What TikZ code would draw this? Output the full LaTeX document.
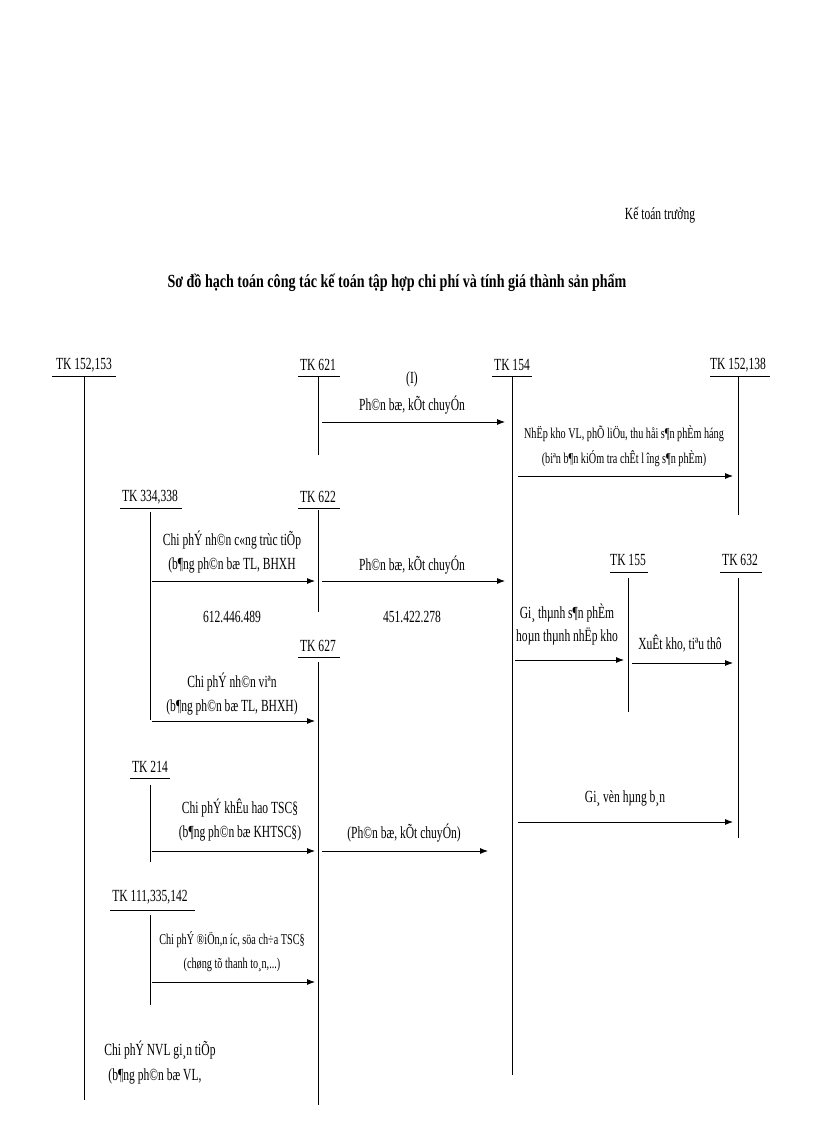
\documentclass[tikz,border=0pt]{standalone}
\usepackage{fontspec}
\setmainfont[FakeStretch=0.68]{Liberation Serif}
\newfontfamily\titlefont[FakeStretch=0.76]{Liberation Serif}
\usetikzlibrary{arrows.meta}
\begin{document}
\begin{tikzpicture}[x=1pt,y=-1pt,
  lbl/.style={inner sep=0pt,font=\fontsize{17}{19}\selectfont,align=center},
  sml/.style={inner sep=0pt,font=\fontsize{15}{17}\selectfont,align=center},
  acc/.style={inner sep=0pt,font=\fontsize{17}{19}\selectfont},
  ln/.style={draw=black,line width=0.8pt},
  arr/.style={ln,-{Latex[length=8pt,width=6pt]}}]
\useasboundingbox (0,0) rectangle (816,1123);
\node[lbl] (kt) at (660,215) {Kế toán trưởng};
\node[inner sep=0pt,font=\titlefont\fontsize{18.5}{20}\selectfont\bfseries] (title) at (397,283) {Sơ đồ hạch toán công tác kế toán tập hợp chi phí và tính giá thành sản phẩm};
% accounts: heading, underline, vertical line
\node[acc] (a1) at (84,365) {TK 152,153};
\draw[ln] (52,376) -- (116,376);
\coordinate (a1t) at (84,376); \coordinate (a1b) at (84,1100); \draw[ln] (a1t) -- (a1b);
\node[acc] (a2) at (318,365) {TK 621};
\draw[ln] (298,376) -- (340,376);
\coordinate (a2t) at (318,376); \coordinate (a2b) at (318,455); \draw[ln] (a2t) -- (a2b);
\node[acc] (a3) at (512,365) {TK 154};
\draw[ln] (492,376) -- (532,376);
\coordinate (a3t) at (512,376); \coordinate (a3b) at (512,1075); \draw[ln] (a3t) -- (a3b);
\node[acc] (a4) at (738,365) {TK 152,138};
\draw[ln] (710,376) -- (770,376);
\coordinate (a4t) at (738,376); \coordinate (a4b) at (738,515); \draw[ln] (a4t) -- (a4b);
\node[lbl] (t1) at (412,379) {(I)};
\node[lbl] (t2) at (412,405) {Ph©n bæ, kÕt chuyÓn};
\coordinate (r1s) at (322,422); \coordinate (r1e) at (505,422); \draw[arr] (r1s) -- (r1e);
\node[sml] (t3) at (624,434) {NhËp kho VL, phÕ liÖu, thu håi s¶n phÈm háng};
\node[sml] (t4) at (624,459) {(biªn b¶n kiÓm tra chÊt l\,îng s¶n phÈm)};
\coordinate (r2s) at (518,476); \coordinate (r2e) at (733,476); \draw[arr] (r2s) -- (r2e);
\node[acc] (b1) at (150,497) {TK 334,338};
\draw[ln] (120,508) -- (182,508);
\coordinate (b1t) at (150,512); \coordinate (b1b) at (150,720); \draw[ln] (b1t) -- (b1b);
\node[acc] (b2) at (318,497) {TK 622};
\draw[ln] (298,508) -- (340,508);
\coordinate (b2t) at (318,510); \coordinate (b2b) at (318,612); \draw[ln] (b2t) -- (b2b);
\node[lbl] (t5) at (232,540) {Chi phÝ nh©n c«ng trùc tiÕp};
\node[lbl] (t6) at (232,565) {(b¶ng ph©n bæ TL, BHXH};
\coordinate (r3s) at (152,581); \coordinate (r3e) at (315,581); \draw[arr] (r3s) -- (r3e);
\node[lbl] (t7) at (412,565) {Ph©n bæ, kÕt chuyÓn};
\coordinate (r4s) at (322,581); \coordinate (r4e) at (505,581); \draw[arr] (r4s) -- (r4e);
\node[lbl] (n1) at (232,617) {612.446.489};
\node[lbl] (n2) at (412,617) {451.422.278};
\node[acc] (c1) at (318,646) {TK 627};
\draw[ln] (298,657) -- (340,657);
\coordinate (c1t) at (318,662); \coordinate (c1b) at (318,1105); \draw[ln] (c1t) -- (c1b);
\node[lbl] (t8) at (232,682) {Chi phÝ nh©n viªn};
\node[lbl] (t9) at (232,707) {(b¶ng ph©n bæ TL, BHXH)};
\coordinate (r5s) at (152,721); \coordinate (r5e) at (315,721); \draw[arr] (r5s) -- (r5e);
\node[acc] (d1) at (628,560) {TK 155};
\draw[ln] (610,572) -- (648,572);
\coordinate (d1t) at (628,578); \coordinate (d1b) at (628,712); \draw[ln] (d1t) -- (d1b);
\node[acc] (d2) at (740,560) {TK 632};
\draw[ln] (720,572) -- (762,572);
\coordinate (d2t) at (738,578); \coordinate (d2b) at (738,838); \draw[ln] (d2t) -- (d2b);
\node[lbl] (t10) at (567,613) {Gi¸ thµnh s¶n phÈm};
\node[lbl] (t11) at (567,636) {hoµn thµnh nhËp kho};
\coordinate (r6s) at (515,660); \coordinate (r6e) at (624,660); \draw[arr] (r6s) -- (r6e);
\node[lbl] (t12) at (680,644) {XuÊt kho, tiªu thô};
\coordinate (r7s) at (632,663); \coordinate (r7e) at (733,663); \draw[arr] (r7s) -- (r7e);
\node[acc] (e1) at (150,767) {TK 214};
\draw[ln] (130,778) -- (170,778);
\coordinate (e1t) at (150,785); \coordinate (e1b) at (150,862); \draw[ln] (e1t) -- (e1b);
\node[lbl] (t13) at (240,808) {Chi phÝ khÊu hao TSC§};
\node[lbl] (t14) at (240,833) {(b¶ng ph©n bæ KHTSC§)};
\coordinate (r8s) at (152,851); \coordinate (r8e) at (315,851); \draw[arr] (r8s) -- (r8e);
\node[lbl] (t15) at (404,833) {(Ph©n bæ, kÕt chuyÓn)};
\coordinate (r9s) at (322,851); \coordinate (r9e) at (488,851); \draw[arr] (r9s) -- (r9e);
\node[lbl] (t16) at (625,798) {Gi¸ vèn hµng b¸n};
\coordinate (r10s) at (518,822); \coordinate (r10e) at (733,822); \draw[arr] (r10s) -- (r10e);
\node[acc] (f1) at (150,897) {TK 111,335,142};
\draw[ln] (110,910) -- (195,910);
\coordinate (f1t) at (150,915); \coordinate (f1b) at (150,1005); \draw[ln] (f1t) -- (f1b);
\node[sml] (t17) at (232,940) {Chi phÝ ®iÖn,n\,íc, söa ch÷a TSC§};
\node[sml] (t18) at (232,965) {(chøng tõ thanh to¸n,...)};
\coordinate (r11s) at (152,982); \coordinate (r11e) at (315,982); \draw[arr] (r11s) -- (r11e);
\node[lbl] (t19) at (160,1050) {Chi phÝ NVL gi¸n tiÕp};
\node[lbl] (t20) at (155,1076) {(b¶ng ph©n bæ VL,};
\end{tikzpicture}
\end{document}
